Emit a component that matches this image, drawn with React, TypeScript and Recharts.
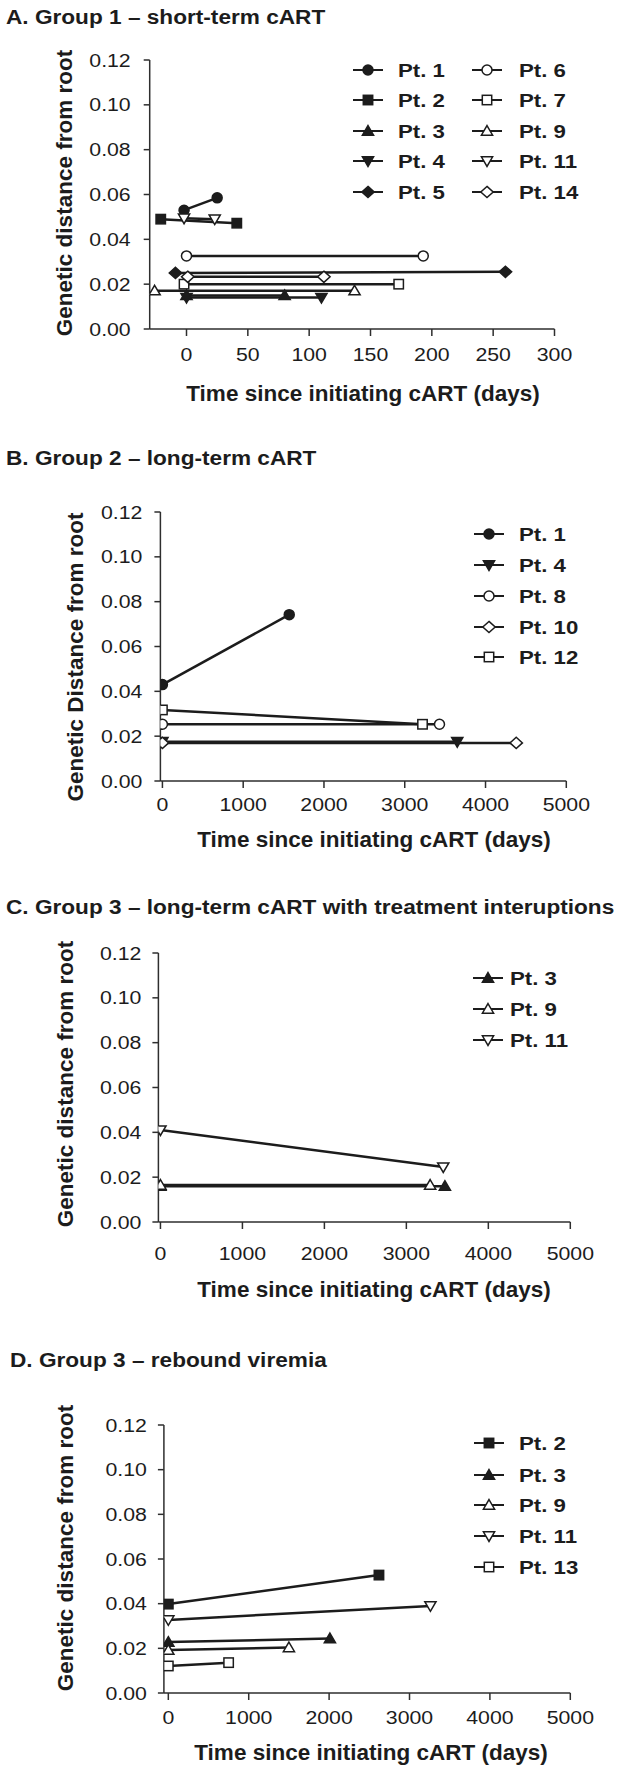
import React from 'react';
import { ScatterChart, Scatter, XAxis, YAxis, Legend, Label } from 'recharts';

const INK = '#1c1c1c';
const AXIS = '#2e2e2e';
const FONT = '"Liberation Sans", Arial, Helvetica, sans-serif';
// the source figure is stretched sideways, so the text is widened to match
const TICK_FS = 18.5;
const TICK_SX = 1.15;

// A. Group 1 – short-term cART
const groupOnePatients = ['Pt. 1', 'Pt. 2', 'Pt. 3', 'Pt. 4', 'Pt. 5', 'Pt. 6', 'Pt. 7', 'Pt. 9', 'Pt. 11', 'Pt. 14'];
const groupOneDays = [[-2, 25], [-21, 41], [0, 80], [0, 110], [-9, 260], [0, 193], [-2, 173], [-26, 137], [-2, 23], [1, 112]];
const groupOneDistance = [
  [0.053, 0.0585], [0.049, 0.0472], [0.015, 0.015], [0.014, 0.014], [0.025, 0.0255],
  [0.0326, 0.0326], [0.02, 0.02], [0.0171, 0.0171], [0.0494, 0.049], [0.0233, 0.0233],
];

// B. Group 2 – long-term cART
const groupTwoPatients = ['Pt. 1', 'Pt. 4', 'Pt. 8', 'Pt. 10', 'Pt. 12'];
const groupTwoDays = [[0, 1570], [0, 3650], [0, 3430], [0, 4380], [0, 3220]];
const groupTwoDistance = [[0.043, 0.0742], [0.0175, 0.0175], [0.0253, 0.0253], [0.017, 0.017], [0.0317, 0.0253]];

// C. Group 3 – long-term cART with treatment interruptions
const groupThreePatients = ['Pt. 3', 'Pt. 9', 'Pt. 11'];
const groupThreeDays = [[0, 3470], [0, 3290], [0, 3450]];
const groupThreeDistance = [[0.016, 0.016], [0.0165, 0.0165], [0.041, 0.0245]];

// D. Group 3 – rebound viremia
const reboundPatients = ['Pt. 2', 'Pt. 3', 'Pt. 9', 'Pt. 11', 'Pt. 13'];
const reboundDays = [[0, 2620], [0, 2010], [0, 1500], [0, 3260], [0, 750]];
const reboundDistance = [[0.0398, 0.0528], [0.0228, 0.0244], [0.0192, 0.0204], [0.0327, 0.039], [0.0121, 0.0136]];

const distanceTicks = [0, 0.02, 0.04, 0.06, 0.08, 0.1, 0.12];
const shortTermTicks = [0, 50, 100, 150, 200, 250, 300];
const longTermTicks = [0, 1000, 2000, 3000, 4000, 5000];

type Shape = 'circle' | 'square' | 'up' | 'down' | 'diamond';
const MARKERS: Record<string, [Shape, boolean]> = {
  'Pt. 1': ['circle', true],
  'Pt. 2': ['square', true],
  'Pt. 3': ['up', true],
  'Pt. 4': ['down', true],
  'Pt. 5': ['diamond', true],
  'Pt. 6': ['circle', false],
  'Pt. 7': ['square', false],
  'Pt. 8': ['circle', false],
  'Pt. 9': ['up', false],
  'Pt. 10': ['diamond', false],
  'Pt. 11': ['down', false],
  'Pt. 12': ['square', false],
  'Pt. 13': ['square', false],
  'Pt. 14': ['diamond', false],
};

function Glyph({ name, cx, cy }: { name: string; cx: number; cy: number }) {
  const [shape, filled] = MARKERS[name];
  const common = { fill: filled ? INK : '#fff', stroke: INK, strokeWidth: 1.5 };
  switch (shape) {
    case 'circle':
      return <circle cx={cx} cy={cy} r={5} {...common} />;
    case 'square':
      return <rect x={cx - 4.7} y={cy - 4.7} width={9.4} height={9.4} {...common} />;
    case 'up':
      return <polygon points={`${cx},${cy - 5.4} ${cx + 5.6},${cy + 4.2} ${cx - 5.6},${cy + 4.2}`} {...common} />;
    case 'down':
      return <polygon points={`${cx - 5.6},${cy - 4.2} ${cx + 5.6},${cy - 4.2} ${cx},${cy + 5.4}`} {...common} />;
    default:
      return <polygon points={`${cx},${cy - 5.6} ${cx + 6.2},${cy} ${cx},${cy + 5.6} ${cx - 6.2},${cy}`} {...common} />;
  }
}

const XTick = (props: any) => (
  <text
    transform={`translate(${props.x},${props.y}) scale(${TICK_SX},1)`}
    textAnchor="middle"
    dy="0.71em"
    fontSize={TICK_FS}
    fontFamily={FONT}
    fill={INK}
  >
    {props.payload.value}
  </text>
);

const YTick = (props: any) => (
  <text
    transform={`translate(${props.x},${props.y}) scale(${TICK_SX},1)`}
    textAnchor="end"
    dy="0.355em"
    fontSize={TICK_FS}
    fontFamily={FONT}
    fill={INK}
  >
    {Number(props.payload.value).toFixed(2)}
  </text>
);

interface PanelProps {
  title: string;
  titleBaseline: number;
  titleX: number;
  patients: string[];
  days: number[][];
  distance: number[][];
  xDomain: [number, number];
  xTicks: number[];
  plot: { l: number; t: number; r: number; b: number };
  chartTop: number;
  chartBottom: number;
  xTickMargin: number;
  yTickMargin: number;
  xTitleX: number;
  xTitleBaseline: number;
  yTitle: string;
  yTitleX: number;
  yTitleY: number;
  legendCols: { markerX: number; textX: number }[];
  legendRows: number[];
}

function LegendBlock({ p }: { p: PanelProps }) {
  const perCol = p.legendRows.length;
  return (
    <div style={{ position: 'relative', width: 620, height: 1 }}>
      {p.patients.map((name, i) => {
        const col = p.legendCols[Math.floor(i / perCol)];
        const y = p.legendRows[i % perCol] - p.chartTop;
        return (
          <React.Fragment key={name}>
            <svg
              width={32}
              height={20}
              style={{ position: 'absolute', left: col.markerX - 16, top: y - 10, overflow: 'visible' }}
            >
              <line x1={1} y1={10} x2={31} y2={10} stroke={INK} strokeWidth={2} />
              <Glyph name={name} cx={16} cy={10} />
            </svg>
            <div
              style={{
                position: 'absolute',
                left: col.textX,
                top: y - 10,
                height: 20,
                lineHeight: '20px',
                font: `bold 19px ${FONT}`,
                color: INK,
                whiteSpace: 'nowrap',
                transform: 'scaleX(1.17)',
                transformOrigin: 'left center',
              }}
            >
              {name}
            </div>
          </React.Fragment>
        );
      })}
    </div>
  );
}

function Panel(p: PanelProps) {
  const height = p.chartBottom - p.chartTop;
  const margin = { top: p.plot.t - p.chartTop, right: 620 - p.plot.r, left: 0, bottom: 0 };
  const axisStyle = { stroke: AXIS, strokeWidth: 1.5 };
  return (
    <>
      <div
        style={{
          position: 'absolute',
          left: p.titleX,
          top: p.titleBaseline - 16.5,
          height: 20,
          lineHeight: '20px',
          font: `bold 19.5px ${FONT}`,
          color: INK,
          whiteSpace: 'nowrap',
          transform: 'scaleX(1.16)',
          transformOrigin: 'left center',
        }}
      >
        {p.title}
      </div>
      <div style={{ position: 'absolute', left: 0, top: p.chartTop }}>
        <ScatterChart width={620} height={height} margin={margin}>
          <XAxis
            type="number"
            dataKey="day"
            domain={p.xDomain}
            ticks={p.xTicks}
            allowDataOverflow
            height={p.chartBottom - p.plot.b}
            axisLine={axisStyle}
            tickLine={axisStyle}
            tickSize={7}
            tickMargin={p.xTickMargin}
            tick={<XTick />}
          >
            <Label
              content={() => (
                <text
                  x={p.xTitleX}
                  y={p.xTitleBaseline - p.chartTop}
                  textAnchor="middle"
                  fontFamily={FONT}
                  fontWeight="bold"
                  fontSize={22.5}
                  fill={INK}
                >
                  Time since initiating cART (days)
                </text>
              )}
            />
          </XAxis>
          <YAxis
            type="number"
            dataKey="dist"
            domain={[0, 0.12]}
            ticks={distanceTicks}
            width={p.plot.l}
            axisLine={axisStyle}
            tickLine={axisStyle}
            tickSize={6}
            tickMargin={p.yTickMargin}
            tick={<YTick />}
          >
            <Label
              content={() => {
                const y = p.yTitleY - p.chartTop;
                return (
                  <text
                    x={p.yTitleX}
                    y={y}
                    transform={`rotate(-90 ${p.yTitleX} ${y})`}
                    textAnchor="middle"
                    fontFamily={FONT}
                    fontWeight="bold"
                    fontSize={22.5}
                    fill={INK}
                  >
                    {p.yTitle}
                  </text>
                );
              }}
            />
          </YAxis>
          <Legend
            layout="vertical"
            align="center"
            verticalAlign="middle"
            wrapperStyle={{ left: 0, top: 0, width: 620, height: 1 }}
            content={() => <LegendBlock p={p} />}
          />
          {p.patients.map((name, i) => (
            <Scatter
              key={name}
              name={name}
              data={p.days[i].map((d, j) => ({ day: d, dist: p.distance[i][j] }))}
              line={{ stroke: INK, strokeWidth: 2.5 }}
              lineType="joint"
              shape={(s: any) => <Glyph name={name} cx={s.cx} cy={s.cy} />}
              isAnimationActive={false}
            />
          ))}
        </ScatterChart>
      </div>
    </>
  );
}

const panels: PanelProps[] = [
  {
    title: 'A. Group 1 – short-term cART',
    titleBaseline: 22,
    titleX: 6,
    patients: groupOnePatients,
    days: groupOneDays,
    distance: groupOneDistance,
    xDomain: [-30, 300],
    xTicks: shortTermTicks,
    plot: { l: 149.7, t: 60, r: 554.5, b: 329 },
    chartTop: 40,
    chartBottom: 410,
    xTickMargin: 11.4,
    yTickMargin: 13,
    xTitleX: 363,
    xTitleBaseline: 401,
    yTitle: 'Genetic distance from root',
    yTitleX: 72,
    yTitleY: 193,
    legendCols: [
      { markerX: 368, textX: 398 },
      { markerX: 487, textX: 519 },
    ],
    legendRows: [70, 100, 131, 161, 192],
  },
  {
    title: 'B. Group 2 – long-term cART',
    titleBaseline: 463,
    titleX: 6,
    patients: groupTwoPatients,
    days: groupTwoDays,
    distance: groupTwoDistance,
    xDomain: [-25, 5000],
    xTicks: longTermTicks,
    plot: { l: 160.4, t: 512, r: 566.3, b: 781 },
    chartTop: 490,
    chartBottom: 860,
    xTickMargin: 9.9,
    yTickMargin: 12,
    xTitleX: 374,
    xTitleBaseline: 847,
    yTitle: 'Genetic Distance from root',
    yTitleX: 83,
    yTitleY: 657,
    legendCols: [{ markerX: 489, textX: 519 }],
    legendRows: [534, 565, 596, 627, 657],
  },
  {
    title: 'C. Group 3 – long-term cART with treatment interuptions',
    titleBaseline: 912,
    titleX: 6,
    patients: groupThreePatients,
    days: groupThreeDays,
    distance: groupThreeDistance,
    xDomain: [-25, 5000],
    xTicks: longTermTicks,
    plot: { l: 158.4, t: 953, r: 570.3, b: 1222 },
    chartTop: 930,
    chartBottom: 1310,
    xTickMargin: 17.4,
    yTickMargin: 11,
    xTitleX: 374,
    xTitleBaseline: 1297,
    yTitle: 'Genetic distance from root',
    yTitleX: 73,
    yTitleY: 1084,
    legendCols: [{ markerX: 488, textX: 510 }],
    legendRows: [978, 1009, 1040],
  },
  {
    title: 'D. Group 3 – rebound viremia',
    titleBaseline: 1365,
    titleX: 10,
    patients: reboundPatients,
    days: reboundDays,
    distance: reboundDistance,
    xDomain: [-55, 5000],
    xTicks: longTermTicks,
    plot: { l: 163.9, t: 1425, r: 570.3, b: 1693 },
    chartTop: 1400,
    chartBottom: 1772,
    xTickMargin: 10.9,
    yTickMargin: 11,
    xTitleX: 371,
    xTitleBaseline: 1760,
    yTitle: 'Genetic distance from root',
    yTitleX: 73,
    yTitleY: 1548,
    legendCols: [{ markerX: 489, textX: 519 }],
    legendRows: [1443, 1475, 1505, 1536, 1567],
  },
];

export default function App() {
  return (
    <div style={{ position: 'absolute', left: 0, top: 0, width: 620, height: 1772, background: '#fff', fontFamily: FONT }}>
      {panels.map((p) => (
        <Panel key={p.title} {...p} />
      ))}
    </div>
  );
}
